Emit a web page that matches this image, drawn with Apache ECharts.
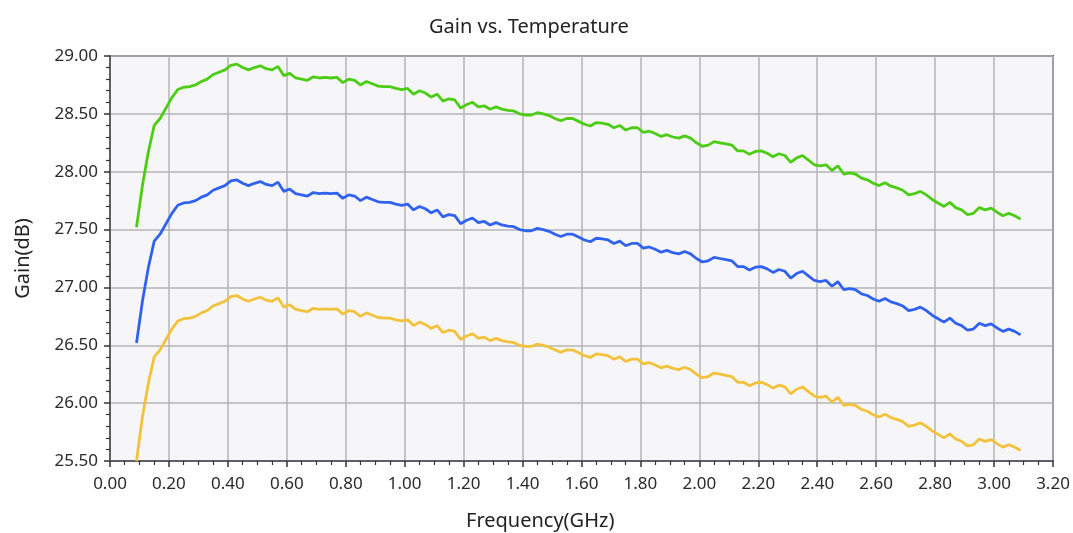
<!DOCTYPE html>
<html>
<head>
<meta charset="utf-8">
<title>Gain vs. Temperature</title>
<script src="https://cdn.jsdelivr.net/npm/echarts@6/dist/echarts.min.js"></script>
<style>
  html, body { margin: 0; padding: 0; background: #ffffff; }
  #chart { width: 1073px; height: 533px; }
</style>
</head>
<body>
<div id="chart"></div>
<script>
// frequency points (GHz)
const freq = [
  0.09, 0.11, 0.13, 0.15, 0.17, 0.19, 0.21, 0.23, 0.25, 0.27, 0.29, 0.31, 0.33, 0.35, 0.37, 0.39,
  0.41, 0.43, 0.45, 0.47, 0.49, 0.51, 0.53, 0.55, 0.57, 0.59, 0.61, 0.63, 0.65, 0.67, 0.69, 0.71,
  0.73, 0.75, 0.77, 0.79, 0.81, 0.83, 0.85, 0.87, 0.89, 0.91, 0.93, 0.95, 0.97, 0.99, 1.01, 1.03,
  1.05, 1.07, 1.09, 1.11, 1.13, 1.15, 1.17, 1.19, 1.21, 1.23, 1.25, 1.27, 1.29, 1.31, 1.33, 1.35,
  1.37, 1.39, 1.41, 1.43, 1.45, 1.47, 1.49, 1.51, 1.53, 1.55, 1.57, 1.59, 1.61, 1.63, 1.65, 1.67,
  1.69, 1.71, 1.73, 1.75, 1.77, 1.79, 1.81, 1.83, 1.85, 1.87, 1.89, 1.91, 1.93, 1.95, 1.97, 1.99,
  2.01, 2.03, 2.05, 2.07, 2.09, 2.11, 2.13, 2.15, 2.17, 2.19, 2.21, 2.23, 2.25, 2.27, 2.29, 2.31,
  2.33, 2.35, 2.37, 2.39, 2.41, 2.43, 2.45, 2.47, 2.49, 2.51, 2.53, 2.55, 2.57, 2.59, 2.61, 2.63,
  2.65, 2.67, 2.69, 2.71, 2.73, 2.75, 2.77, 2.79, 2.81, 2.83, 2.85, 2.87, 2.89, 2.91, 2.93, 2.95,
  2.97, 2.99, 3.01, 3.03, 3.05, 3.07, 3.09
];

// gain (dB) - green trace
const gainGreen = [
  27.52, 27.88, 28.17, 28.40, 28.46, 28.55, 28.64, 28.71, 28.73, 28.735, 28.75, 28.78, 28.80, 28.84, 28.86, 28.88,
  28.92, 28.93, 28.90, 28.88, 28.90, 28.915, 28.89, 28.88, 28.91, 28.83, 28.85, 28.81, 28.80, 28.79, 28.82, 28.81,
  28.815, 28.81, 28.815, 28.77, 28.80, 28.79, 28.75, 28.78, 28.76, 28.74, 28.735, 28.735, 28.72, 28.71, 28.72, 28.67,
  28.70, 28.68, 28.645, 28.67, 28.61, 28.63, 28.62, 28.55, 28.58, 28.60, 28.56, 28.57, 28.54, 28.56, 28.54, 28.53,
  28.525, 28.50, 28.49, 28.49, 28.51, 28.50, 28.485, 28.46, 28.44, 28.46, 28.46, 28.435, 28.41, 28.395, 28.425, 28.42,
  28.41, 28.38, 28.40, 28.36, 28.38, 28.38, 28.34, 28.35, 28.33, 28.305, 28.32, 28.30, 28.29, 28.31, 28.29, 28.25,
  28.22, 28.23, 28.26, 28.25, 28.24, 28.23, 28.18, 28.18, 28.15, 28.175, 28.18, 28.16, 28.13, 28.155, 28.14, 28.08,
  28.12, 28.14, 28.10, 28.06, 28.05, 28.06, 28.01, 28.05, 27.98, 27.99, 27.98, 27.945, 27.93, 27.90, 27.88, 27.905,
  27.875, 27.86, 27.84, 27.80, 27.81, 27.83, 27.80, 27.76, 27.73, 27.70, 27.735, 27.69, 27.67, 27.63, 27.64, 27.69,
  27.67, 27.685, 27.65, 27.62, 27.64, 27.62, 27.59
];

// gain (dB) - blue trace
const gainBlue = [
  26.52, 26.88, 27.17, 27.40, 27.46, 27.55, 27.64, 27.71, 27.73, 27.735, 27.75, 27.78, 27.80, 27.84, 27.86, 27.88,
  27.92, 27.93, 27.90, 27.88, 27.90, 27.915, 27.89, 27.88, 27.91, 27.83, 27.85, 27.81, 27.80, 27.79, 27.82, 27.81,
  27.815, 27.81, 27.815, 27.77, 27.80, 27.79, 27.75, 27.78, 27.76, 27.74, 27.735, 27.735, 27.72, 27.71, 27.72, 27.67,
  27.70, 27.68, 27.645, 27.67, 27.61, 27.63, 27.62, 27.55, 27.58, 27.60, 27.56, 27.57, 27.54, 27.56, 27.54, 27.53,
  27.525, 27.50, 27.49, 27.49, 27.51, 27.50, 27.485, 27.46, 27.44, 27.46, 27.46, 27.435, 27.41, 27.395, 27.425, 27.42,
  27.41, 27.38, 27.40, 27.36, 27.38, 27.38, 27.34, 27.35, 27.33, 27.305, 27.32, 27.30, 27.29, 27.31, 27.29, 27.25,
  27.22, 27.23, 27.26, 27.25, 27.24, 27.23, 27.18, 27.18, 27.15, 27.175, 27.18, 27.16, 27.13, 27.155, 27.14, 27.08,
  27.12, 27.14, 27.10, 27.06, 27.05, 27.06, 27.01, 27.05, 26.98, 26.99, 26.98, 26.945, 26.93, 26.90, 26.88, 26.905,
  26.875, 26.86, 26.84, 26.80, 26.81, 26.83, 26.80, 26.76, 26.73, 26.70, 26.735, 26.69, 26.67, 26.63, 26.64, 26.69,
  26.67, 26.685, 26.65, 26.62, 26.64, 26.62, 26.59
];

// gain (dB) - yellow trace
const gainYellow = [
  25.50, 25.88, 26.17, 26.40, 26.46, 26.55, 26.64, 26.71, 26.73, 26.735, 26.75, 26.78, 26.80, 26.84, 26.86, 26.88,
  26.92, 26.93, 26.90, 26.88, 26.90, 26.915, 26.89, 26.88, 26.91, 26.83, 26.85, 26.81, 26.80, 26.79, 26.82, 26.81,
  26.815, 26.81, 26.815, 26.77, 26.80, 26.79, 26.75, 26.78, 26.76, 26.74, 26.735, 26.735, 26.72, 26.71, 26.72, 26.67,
  26.70, 26.68, 26.645, 26.67, 26.61, 26.63, 26.62, 26.55, 26.58, 26.60, 26.56, 26.57, 26.54, 26.56, 26.54, 26.53,
  26.525, 26.50, 26.49, 26.49, 26.51, 26.50, 26.485, 26.46, 26.44, 26.46, 26.46, 26.435, 26.41, 26.395, 26.425, 26.42,
  26.41, 26.38, 26.40, 26.36, 26.38, 26.38, 26.34, 26.35, 26.33, 26.305, 26.32, 26.30, 26.29, 26.31, 26.29, 26.25,
  26.22, 26.23, 26.26, 26.25, 26.24, 26.23, 26.18, 26.18, 26.15, 26.175, 26.18, 26.16, 26.13, 26.155, 26.14, 26.08,
  26.12, 26.14, 26.10, 26.06, 26.05, 26.06, 26.01, 26.05, 25.98, 25.99, 25.98, 25.945, 25.93, 25.90, 25.88, 25.905,
  25.875, 25.86, 25.84, 25.80, 25.81, 25.83, 25.80, 25.76, 25.73, 25.70, 25.735, 25.69, 25.67, 25.63, 25.64, 25.69,
  25.67, 25.685, 25.65, 25.62, 25.64, 25.62, 25.59
];

const FONT = '"Noto Sans", "Open Sans", sans-serif';
const AXIS_DARK = '#5f5f68';
const GRID_GRAY = '#b4b4b8';

const chart = echarts.init(document.getElementById('chart'), null, { renderer: 'canvas' });

const makeSeries = (name, values, color) => ({
  name: name,
  type: 'line',
  data: freq.map((f, i) => [f, values[i]]),
  showSymbol: false,
  symbol: 'none',
  smooth: false,
  clip: true,
  lineStyle: { color: color, width: 2.8 },
  itemStyle: { color: color },
  z: 3
});

const option = {
  backgroundColor: '#ffffff',
  animation: false,
  textStyle: { fontFamily: FONT },
  title: [
    {
      text: 'Gain vs. Temperature',
      left: 424,
      top: 12,
      textStyle: { fontFamily: FONT, fontSize: 20, fontWeight: 'normal', color: '#222222' }
    },
    {
      text: 'Frequency(GHz)',
      left: 461,
      top: 506,
      textStyle: { fontFamily: FONT, fontSize: 20, fontWeight: 'normal', color: '#222222' }
    }
  ],
  grid: {
    left: 110,
    right: 20,
    top: 56,
    bottom: 72,
    show: true,
    backgroundColor: '#f6f6f8',
    borderColor: AXIS_DARK,
    borderWidth: 2
  },
  xAxis: {
    type: 'value',
    min: 0,
    max: 3.2,
    interval: 0.2,
    axisLine: { show: true, onZero: false, lineStyle: { color: AXIS_DARK, width: 2 } },
    axisTick: { show: true, inside: false, length: 6, lineStyle: { color: '#333333', width: 1.5 } },
    minorTick: { show: true, splitNumber: 4, length: 4, lineStyle: { color: '#333333', width: 1.2 } },
    splitLine: { show: true, lineStyle: { color: GRID_GRAY, width: 1.5 } },
    axisLabel: {
      color: '#2a2a2a',
      fontFamily: FONT,
      fontSize: 17,
      margin: 15,
      formatter: (v) => v.toFixed(2)
    }
  },
  yAxis: {
    type: 'value',
    min: 25.5,
    max: 29,
    interval: 0.5,
    name: 'Gain(dB)',
    nameLocation: 'middle',
    nameGap: 77,
    nameRotate: 90,
    nameTextStyle: { fontFamily: FONT, fontSize: 20, color: '#222222' },
    axisLine: { show: true, onZero: false, lineStyle: { color: AXIS_DARK, width: 2 } },
    axisTick: { show: true, inside: false, length: 6, lineStyle: { color: '#333333', width: 1.5 } },
    minorTick: { show: true, splitNumber: 5, length: 4, lineStyle: { color: '#333333', width: 1.2 } },
    splitLine: { show: true, lineStyle: { color: GRID_GRAY, width: 1.5 } },
    axisLabel: {
      color: '#2a2a2a',
      fontFamily: FONT,
      fontSize: 17,
      margin: 12,
      formatter: (v) => v.toFixed(2)
    }
  },
  series: [
    makeSeries('High', gainGreen, '#4ccc14'),
    makeSeries('Room', gainBlue, '#3062ee'),
    makeSeries('Low', gainYellow, '#f2c23c')
  ]
};

chart.setOption(option);
</script>
</body>
</html>
